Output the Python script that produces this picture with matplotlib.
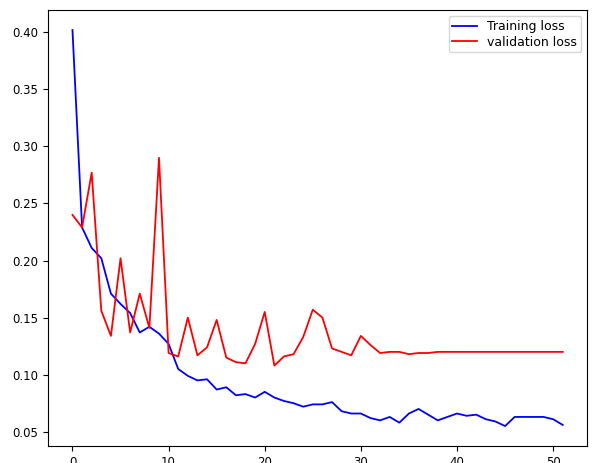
import matplotlib
matplotlib.use("Agg")
import matplotlib.pyplot as plt

epochs = list(range(52))

train_loss = [
    0.402, 0.229, 0.211, 0.202, 0.171, 0.162, 0.154, 0.137, 0.142, 0.136,
    0.127, 0.105, 0.099, 0.095, 0.096, 0.087, 0.089, 0.082, 0.083, 0.080,
    0.085, 0.080, 0.077, 0.075, 0.072, 0.074, 0.074, 0.076, 0.068, 0.066,
    0.066, 0.062, 0.060, 0.063, 0.058, 0.066, 0.070, 0.065, 0.060, 0.063,
    0.066, 0.064, 0.065, 0.061, 0.059, 0.055, 0.063, 0.063, 0.063, 0.063,
    0.061, 0.056,
]

val_loss = [
    0.240, 0.229, 0.277, 0.156, 0.134, 0.202, 0.137, 0.171, 0.141, 0.290,
    0.119, 0.116, 0.150, 0.117, 0.124, 0.148, 0.115, 0.111, 0.110, 0.127,
    0.155, 0.108, 0.116, 0.118, 0.133, 0.157, 0.150, 0.123, 0.120, 0.117,
    0.134, 0.126, 0.119, 0.120, 0.120, 0.118, 0.119, 0.119, 0.120, 0.120,
    0.120, 0.120, 0.120, 0.120, 0.120, 0.120, 0.120, 0.120, 0.120, 0.120,
    0.120, 0.120,
]

plt.rcParams['xtick.labelsize'] = 8.5
plt.rcParams['ytick.labelsize'] = 8.5
plt.rcParams['legend.fontsize'] = 9

fig = plt.figure(figsize=(5.92, 4.63), dpi=100)
ax = fig.add_axes([0.081, 0.037, 0.911, 0.941])

ax.plot(epochs, train_loss, color='blue', linewidth=1.3, label='Training loss')
ax.plot(epochs, val_loss, color='red', linewidth=1.3, label='validation loss')

ax.set_xticks([0, 10, 20, 30, 40, 50])
ax.set_yticks([0.05, 0.10, 0.15, 0.20, 0.25, 0.30, 0.35, 0.40])
ax.legend(loc='upper right', labelspacing=0.2, borderpad=0.3)

fig.savefig('out.png', dpi=100)
